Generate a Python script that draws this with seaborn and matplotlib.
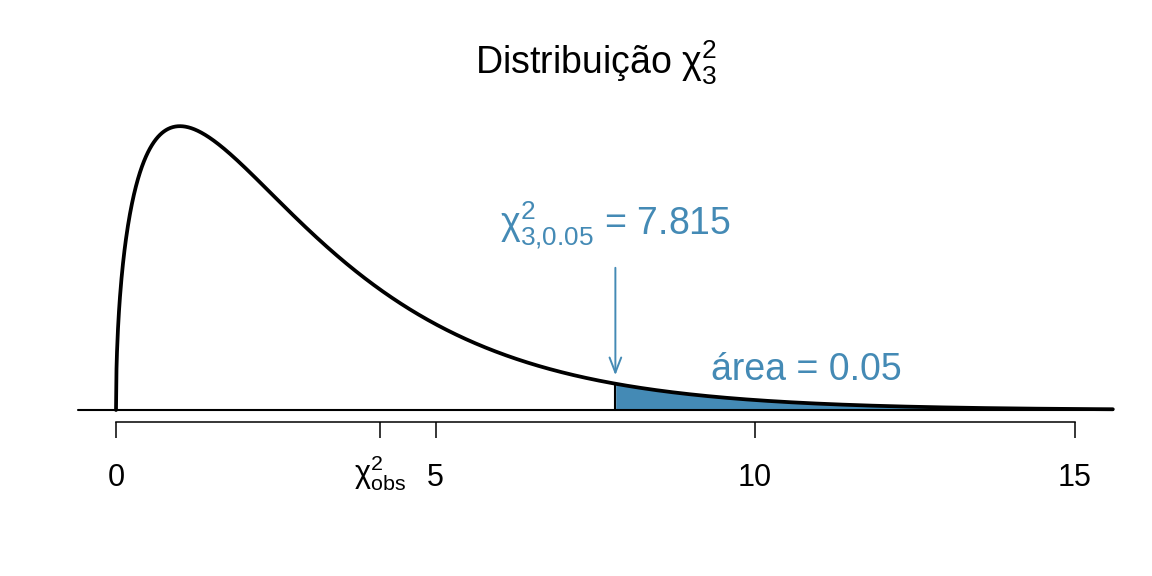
import numpy as np
import matplotlib
matplotlib.use("Agg")
import matplotlib.pyplot as plt
import matplotlib.transforms as mtransforms
import seaborn as sns
import pandas as pd
from math import gamma

sns.set_theme(style="white")
plt.rcParams['font.family'] = ['Liberation Sans', 'DejaVu Sans']
plt.rcParams['mathtext.fontset'] = 'custom'
plt.rcParams['mathtext.rm'] = 'Liberation Sans'
plt.rcParams['mathtext.it'] = 'Liberation Sans'
plt.rcParams['mathtext.default'] = 'regular'

# ---- data ----
df_chi = 3
critical_value = 7.815
chi2_obs = 4.13
x_max = 15.6
tick_values = [0, chi2_obs, 5, 10, 15]
tick_labels = ['0', r'$\chi^2_{obs}$', '5', '10', '15']
title_text = r'Distribuição $\chi^2_3$'
crit_label = r'$\chi^2_{3{,}0.05}$ = 7.815'
area_label = 'área = 0.05'

xs = np.linspace(0, x_max, 2000)
dens = xs ** (df_chi / 2 - 1) * np.exp(-xs / 2) / (2 ** (df_chi / 2) * gamma(df_chi / 2))
curve = pd.DataFrame({'x': xs, 'density': dens})

blue = '#448AB5'

fig = plt.figure(figsize=(11.52, 5.76), dpi=100)
ax = fig.add_axes([0, (576 - 422) / 576, 1, 422 / 576])
ax.set_xlim(-116 / 63.9, (1152 - 116) / 63.9)
ax.set_ylim(-12 / 1173, 410 / 1173)

# shaded tail
tail = curve[curve['x'] >= critical_value]
ax.fill_between(tail['x'], 0, tail['density'], color=blue, lw=0)
f_crit = np.interp(critical_value, curve['x'], curve['density'])
ax.plot([critical_value, critical_value], [0, f_crit], color='black', lw=1.5)

# baseline
ax.plot([-0.6, x_max], [0, 0], color='black', lw=1.5)

# curve
sns.lineplot(data=curve, x='x', y='density', color='black', lw=2.7, ax=ax, sort=False)

# arrow
ax.annotate('', xy=(critical_value, 0.0273), xytext=(critical_value, 0.1236),
            arrowprops=dict(arrowstyle='->,head_length=0.9,head_width=0.35', color=blue, lw=1.4))
ax.text(critical_value, (410 - 225) / 1173, crit_label, color=blue, fontsize=27,
        ha='center', va='center')
ax.text(10.8, (410 - 370) / 1173, area_label, color=blue, fontsize=27, ha='center', va='center')

# title
fig.text(596 / 1152, 1 - 63 / 576, title_text, fontsize=27, ha='center', va='center', color='black')

# axis styling
for s in ['top', 'right', 'left']:
    ax.spines[s].set_visible(False)
ax.spines['bottom'].set_bounds(0, 15)
ax.spines['bottom'].set_color('black')
ax.spines['bottom'].set_linewidth(1.1)
ax.set_xticks(tick_values)
ax.set_xticklabels(tick_labels)
ax.tick_params(axis='x', direction='out', length=11.5, width=1.1, color='black',
               labelsize=22, pad=18, bottom=True, labelcolor='black')
ax.set_yticks([])
ax.set_xlabel('')
ax.set_ylabel('')
ax.set_facecolor('white')
ax.grid(False)

# shift the chi^2_obs label up to align with numeric labels
lbl = ax.get_xticklabels()[1]
lbl.set_transform(lbl.get_transform() + mtransforms.ScaledTranslation(0, 10 / 100, fig.dpi_scale_trans))

fig.savefig('out.png', dpi=100, facecolor='white')
